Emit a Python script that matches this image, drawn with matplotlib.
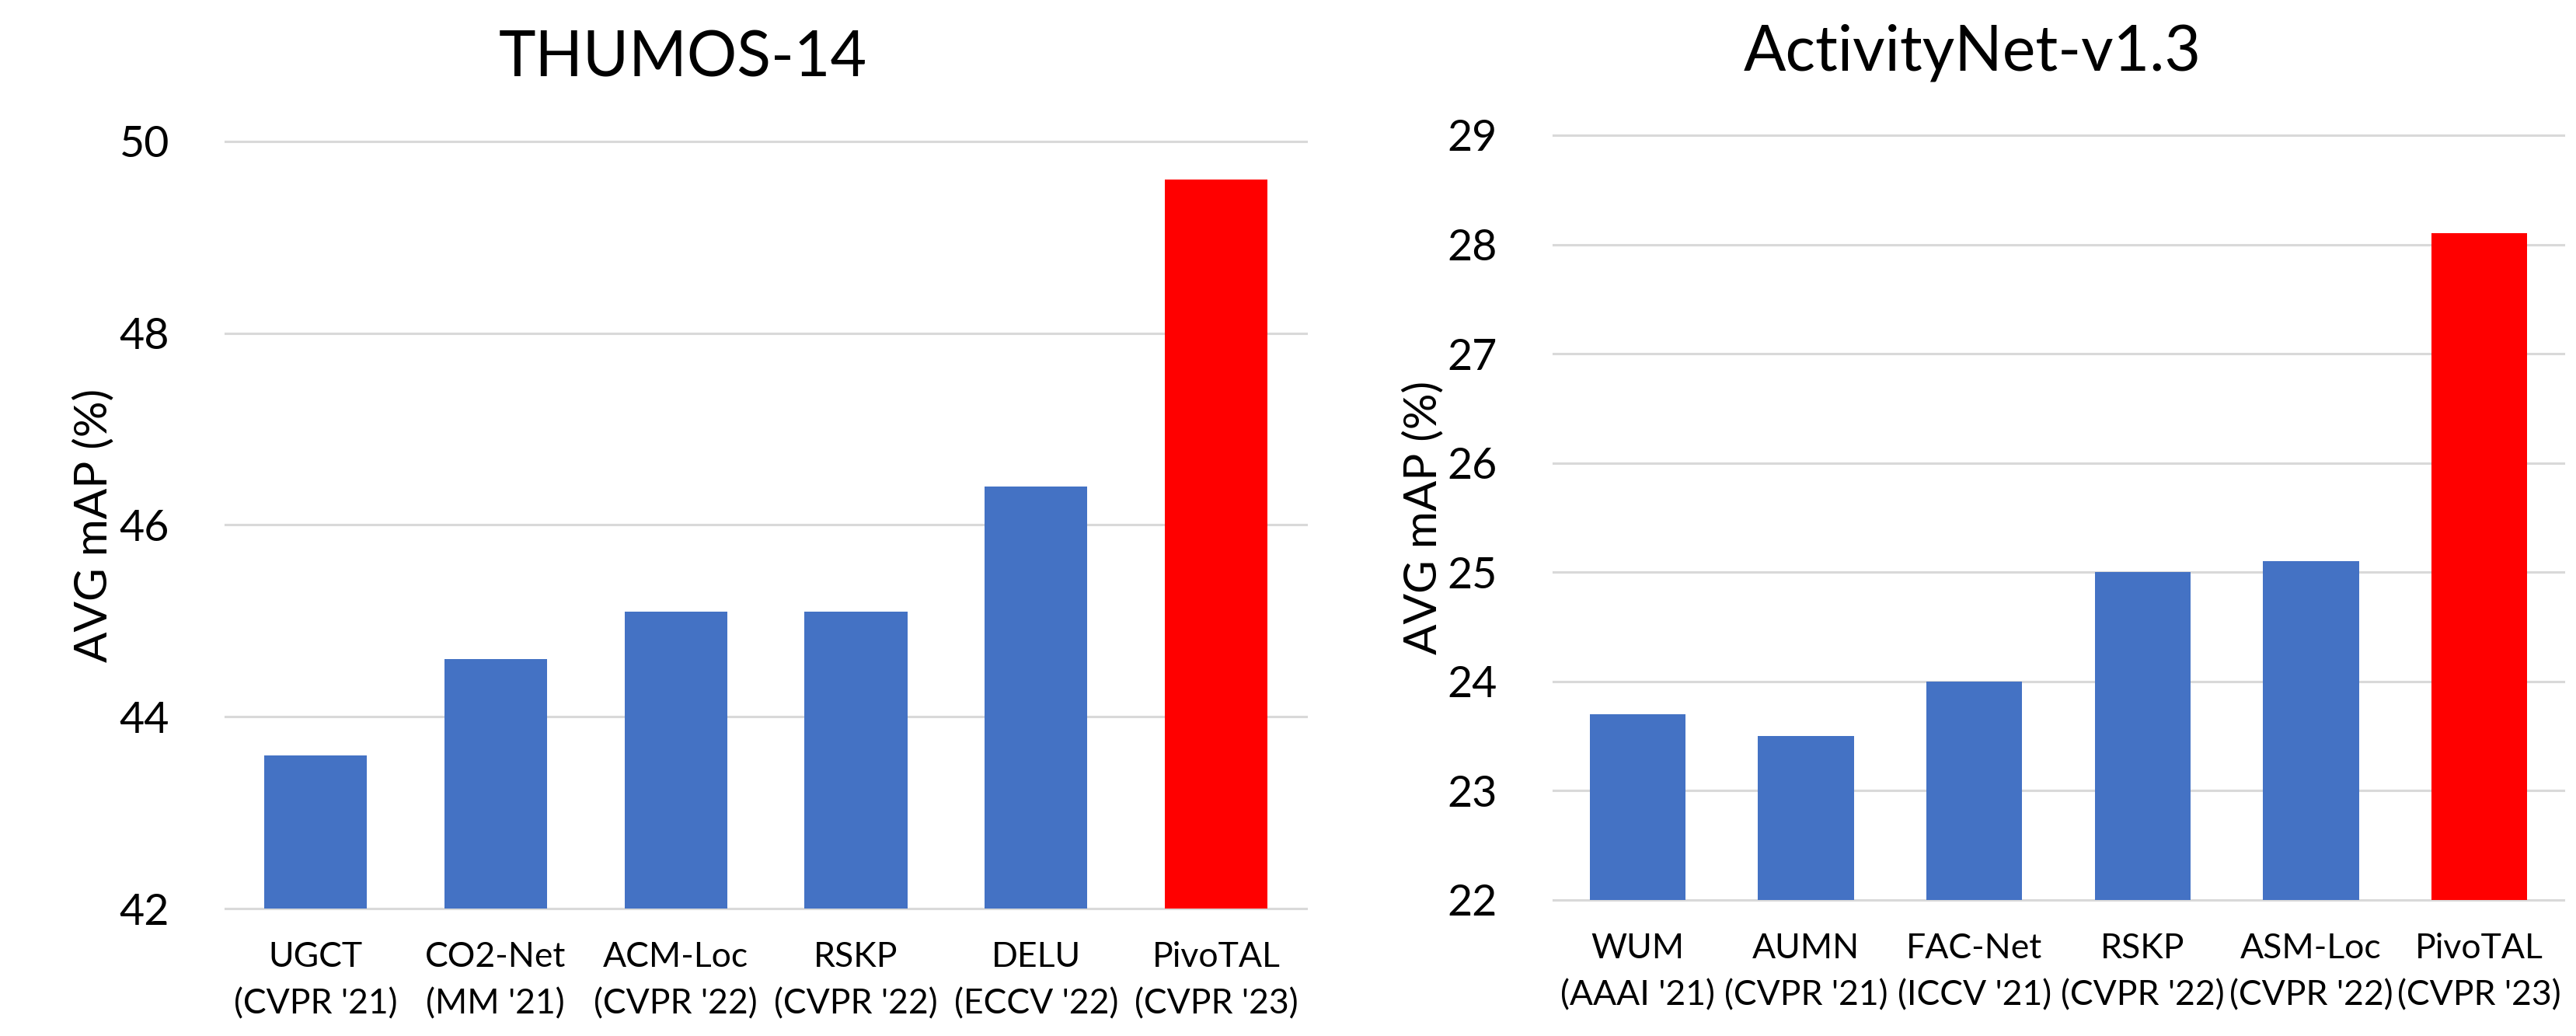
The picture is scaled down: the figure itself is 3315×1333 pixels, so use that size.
import matplotlib.pyplot as plt
import numpy as np

plt.rcParams['font.family'] = ['Lato', 'DejaVu Sans']

thumos_methods = ['UGCT\n(CVPR \'21)', 'CO2-Net\n(MM \'21)', 'ACM-Loc\n(CVPR \'22)',
                  'RSKP\n(CVPR \'22)', 'DELU\n(ECCV \'22)', 'PivoTAL\n(CVPR \'23)']
thumos_map = [43.6, 44.6, 45.1, 45.1, 46.4, 49.6]
thumos_ticks = [42, 44, 46, 48, 50]

anet_methods = ['WUM\n(AAAI \'21)', 'AUMN\n(CVPR \'21)', 'FAC-Net\n(ICCV \'21)',
                'RSKP\n(CVPR \'22)', 'ASM-Loc\n(CVPR \'22)', 'PivoTAL\n(CVPR \'23)']
anet_map = [23.7, 23.5, 24.0, 25.0, 25.1, 28.1]
anet_ticks = [22, 23, 24, 25, 26, 27, 28, 29]

blue = '#4472C4'
red = '#FF0000'
grid_col = '#D9D9D9'


def draw_panel(ax, labels, values, ticks, title, label_x, title_x):
    x = np.arange(len(labels))
    colors = [blue] * (len(values) - 1) + [red]
    ax.bar(x, values, width=0.57, color=colors, zorder=2)
    ax.set_ylim(ticks[0], ticks[-1])
    ax.set_xlim(-0.5, len(labels) - 0.5)
    ax.set_yticks(ticks)
    ax.set_xticks(x)
    ax.set_xticklabels(labels, fontsize=16, linespacing=1.6)
    ax.tick_params(axis='y', length=0, pad=26, labelsize=20)
    ax.tick_params(axis='x', length=0, pad=15)
    for t in ticks:
        ax.axhline(t, color=grid_col, linewidth=1.1, zorder=1, clip_on=False)
    for s in ax.spines.values():
        s.set_visible(False)
    ax.set_title(title, fontsize=29, pad=30, x=title_x)
    ax.set_ylabel('AVG mAP (%)', fontsize=21)
    ax.yaxis.label.set_va('center')
    ax.yaxis.set_label_coords(label_x, 0.5)


fig = plt.figure(figsize=(16.575, 6.665), dpi=200)
ax1 = fig.add_axes([0.0875, 0.123, 0.4196, 0.7405])
ax2 = fig.add_axes([0.603, 0.1313, 0.3922, 0.7382])

draw_panel(ax1, thumos_methods, thumos_map, thumos_ticks, 'THUMOS-14', -0.1215, 0.423)
draw_panel(ax2, anet_methods, anet_map, anet_ticks, 'ActivityNet-v1.3', -0.129, 0.415)

fig.savefig('out.png', dpi=200)
